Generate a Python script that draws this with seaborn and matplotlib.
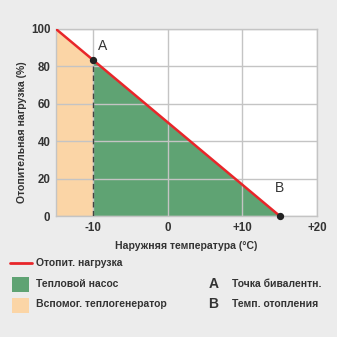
import matplotlib
matplotlib.use("Agg")
import matplotlib.pyplot as plt
from matplotlib.patches import Rectangle
from matplotlib.lines import Line2D
import numpy as np
import pandas as pd
import seaborn as sns

# Heating load curve
outdoor_temp = [-15, 15]          # °C
heating_load = [100, 0]           # %
bivalent_temp = -10               # point A
heating_limit_temp = 15           # point B
x_ticks = [-10, 0, 10, 20]
x_tick_labels = ["-10", "0", "+10", "+20"]
y_ticks = [0, 20, 40, 60, 80, 100]

RED = "#e8262a"
GREEN = "#5fa373"
ORANGE = "#fbd5a6"
BG = "#ececec"
GRID = "#c4c4c4"
TEXT = "#333333"

sns.set_theme(style="white")
plt.rcParams["font.family"] = ["Liberation Sans", "DejaVu Sans"]

fig = plt.figure(figsize=(3.37, 3.37), dpi=100, facecolor=BG)
ax = fig.add_axes([0.166, 0.359, 0.775, 0.555])
ax.set_facecolor("white")

df = pd.DataFrame({"temp": outdoor_temp, "load": heating_load})

def load_at(t):
    return float(np.interp(t, outdoor_temp, heating_load))

# Auxiliary heater region (left of bivalent point)
xa = np.array([outdoor_temp[0], bivalent_temp])
ax.fill_between(xa, [load_at(v) for v in xa], 0, color=ORANGE, lw=0, zorder=1)
# Heat pump region
xh = np.array([bivalent_temp, heating_limit_temp])
ax.fill_between(xh, [load_at(v) for v in xh], 0, color=GREEN, lw=0, zorder=1)

ax.set_xlim(-15, 20)
ax.set_ylim(0, 100)
ax.set_xticks(x_ticks)
ax.set_xticklabels(x_tick_labels)
ax.set_yticks(y_ticks)
ax.grid(True, color=GRID, lw=1.0, zorder=2)
ax.set_axisbelow(False)
for s in ax.spines.values():
    s.set_color(GRID)
    s.set_linewidth(1.0)
    s.set_zorder(2)

# dashed divider at the bivalent point
ax.plot([bivalent_temp, bivalent_temp], [0, load_at(bivalent_temp)],
        color="#444444", lw=1.0, ls=(0, (4, 2.5)), zorder=3)

sns.lineplot(data=df, x="temp", y="load", color=RED, lw=1.8, ax=ax, zorder=4)

ax.scatter([bivalent_temp, heating_limit_temp],
           [load_at(bivalent_temp), load_at(heating_limit_temp)],
           s=18, color="#222222", zorder=5, clip_on=False)
ax.text(bivalent_temp + 0.6, load_at(bivalent_temp) + 4, "A",
        fontsize=10, color=TEXT, ha="left", va="bottom")
ax.text(heating_limit_temp, 11, "B",
        fontsize=10, color=TEXT, ha="center", va="bottom")

ax.tick_params(axis="both", length=0, labelsize=8.3, colors=TEXT, pad=4)
for lbl in ax.get_xticklabels() + ax.get_yticklabels():
    lbl.set_fontweight("bold")
ax.set_xlabel("Наружняя температура (°C)", fontsize=7.6, color=TEXT,
              fontweight="bold", labelpad=5)
ax.set_ylabel("Отопительная нагрузка (%)", fontsize=7.6, color=TEXT,
              fontweight="bold", labelpad=6)
ax.yaxis.set_label_coords(-0.11, 0.45)

# legend block
def fy(py):
    return 1 - py / 337.0

def fx(px):
    return px / 337.0

fig.add_artist(Line2D([fx(10), fx(32)], [fy(263), fy(263)], color=RED, lw=2.0))
fig.text(fx(36), fy(263), "Отопит. нагрузка", fontsize=7.5, color=TEXT,
         fontweight="bold", va="center")
fig.add_artist(Rectangle((fx(12), fy(292)), fx(17), 15 / 337.0,
                         color=GREEN, lw=0))
fig.text(fx(36), fy(284), "Тепловой насос", fontsize=7.5, color=TEXT,
         fontweight="bold", va="center")
fig.add_artist(Rectangle((fx(12), fy(313)), fx(17), 15 / 337.0,
                         color=ORANGE, lw=0))
fig.text(fx(36), fy(304), "Вспомог. теплогенератор", fontsize=7.5, color=TEXT,
         fontweight="bold", va="center")
fig.text(fx(208.5), fy(284), "A", fontsize=10, color=TEXT, fontweight="bold",
         va="center")
fig.text(fx(232), fy(284), "Точка бивалентн.", fontsize=7.5, color=TEXT,
         fontweight="bold", va="center")
fig.text(fx(208.5), fy(304), "B", fontsize=10, color=TEXT, fontweight="bold",
         va="center")
fig.text(fx(232), fy(304), "Темп. отопления", fontsize=7.5, color=TEXT,
         fontweight="bold", va="center")

fig.savefig("out.png", dpi=100, facecolor=BG)
